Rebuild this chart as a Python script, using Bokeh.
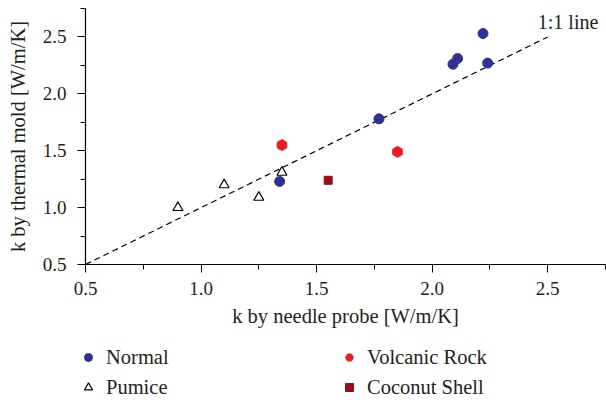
import math
from bokeh.plotting import figure
from bokeh.layouts import column
from bokeh.models import Range1d, FixedTicker, Legend, LegendItem, Label, PrintfTickFormatter
from bokeh.embed import file_html
from bokeh.resources import INLINE

# ---- data ----
normal_x = [1.34, 1.77, 2.09, 2.11, 2.22, 2.24]
normal_y = [1.23, 1.78, 2.26, 2.31, 2.53, 2.27]
pumice_x = [0.90, 1.10, 1.25, 1.35]
pumice_y = [1.00, 1.20, 1.09, 1.31]
volcanic_x = [1.35, 1.85]
volcanic_y = [1.55, 1.49]
coconut_x = [1.55]
coconut_y = [1.24]
line_x = [0.5, 2.5]
line_y = [0.5, 2.5]
major_ticks = [0.5, 1.0, 1.5, 2.0, 2.5]
minor_ticks = [0.75, 1.25, 1.75, 2.25, 2.75]
series_names = ["Normal", "Pumice", "Volcanic Rock", "Coconut Shell"]

FONT = "Liberation Serif"
TXT = "#231f20"

STYLES = {
    "Normal": dict(marker="circle", fill_color="#2e3192", line_color="#2e3192"),
    "Pumice": dict(marker="triangle", fill_color="white", line_color="black", line_width=1.2),
    "Volcanic Rock": dict(marker="hex", angle=math.pi / 6, fill_color="#ed1c24", line_color="#ed1c24"),
    "Coconut Shell": dict(marker="square", fill_color="#9b0d14", line_color="#9b0d14"),
}
SERIES = {
    "Normal": (normal_x, normal_y, 10),
    "Pumice": (pumice_x, pumice_y, 10),
    "Volcanic Rock": (volcanic_x, volcanic_y, 11),
    "Coconut Shell": (coconut_x, coconut_y, 8),
}

p = figure(width=606, height=336, output_backend="svg", toolbar_location=None,
           x_range=Range1d(0.5, 2.75), y_range=Range1d(0.5, 2.75),
           min_border_left=85, min_border_right=1, min_border_top=8,
           min_border_bottom=72)
p.frame_align = False
p.outline_line_color = None
p.grid.visible = False

for ax in (p.xaxis[0], p.yaxis[0]):
    ax.ticker = FixedTicker(ticks=major_ticks, minor_ticks=minor_ticks)
    ax.formatter = PrintfTickFormatter(format="%.1f")
    ax.axis_line_color = "black"
    ax.axis_line_width = 1.2
    ax.major_tick_line_color = "black"
    ax.minor_tick_line_color = "black"
    ax.major_tick_in = 0
    ax.major_tick_out = 8
    ax.minor_tick_in = 0
    ax.minor_tick_out = 5
    ax.major_label_text_font = FONT
    ax.major_label_text_font_size = "19px"
    ax.major_label_text_color = TXT
    ax.axis_label_text_font = FONT
    ax.axis_label_text_font_size = "20.5px"
    ax.axis_label_text_font_style = "normal"
    ax.axis_label_text_color = TXT

p.xaxis.axis_label = "k by needle probe [W/m/K]"
p.yaxis.axis_label = "k by thermal mold [W/m/K]"
p.xaxis.major_label_standoff = 9
p.yaxis.major_label_standoff = 11
p.xaxis.axis_label_standoff = 7
p.yaxis.axis_label_standoff = 11

p.line(line_x, line_y, line_color="black", line_width=1.2, line_dash="6 4")
p.add_layout(Label(x=2.457, y=2.63, text="1:1 line", text_font=FONT,
                   text_font_size="20px", text_color=TXT,
                   text_baseline="middle", text_align="left"))

for name in series_names:
    xs, ys, sz = SERIES[name]
    p.scatter(xs, ys, size=sz, **STYLES[name])

# ---- legend strip below the plot (its data lie outside this strip's ranges) ----
lf = figure(width=606, height=64, output_backend="svg", toolbar_location=None,
            x_range=Range1d(-1, 0), y_range=Range1d(-1, 0),
            x_axis_type=None, y_axis_type=None, min_border=0)
lf.frame_align = False
lf.outline_line_color = None
lf.grid.visible = False
lr = {}
for name in series_names:
    xs, ys, sz = SERIES[name]
    lr[name] = lf.scatter(xs, ys, size=sz, **STYLES[name])

common = dict(orientation="horizontal", glyph_width=20, glyph_height=24,
              label_height=24, label_width=223, label_standoff=8, spacing=10,
              margin=0, padding=0, border_line_color=None, background_fill_alpha=0,
              label_text_font=FONT, label_text_font_size="20.5px",
              label_text_color=TXT)
legend1 = Legend(items=[LegendItem(label=n, renderers=[lr[n]]) for n in (series_names[0], series_names[2])],
                 location=(78, 31), **common)
legend2 = Legend(items=[LegendItem(label=n, renderers=[lr[n]]) for n in (series_names[1], series_names[3])],
                 location=(78, 1), **common)
lf.add_layout(legend1, "center")
lf.add_layout(legend2, "center")

layout = column(p, lf, spacing=0)
open("out.html", "w").write(file_html(layout, INLINE))
